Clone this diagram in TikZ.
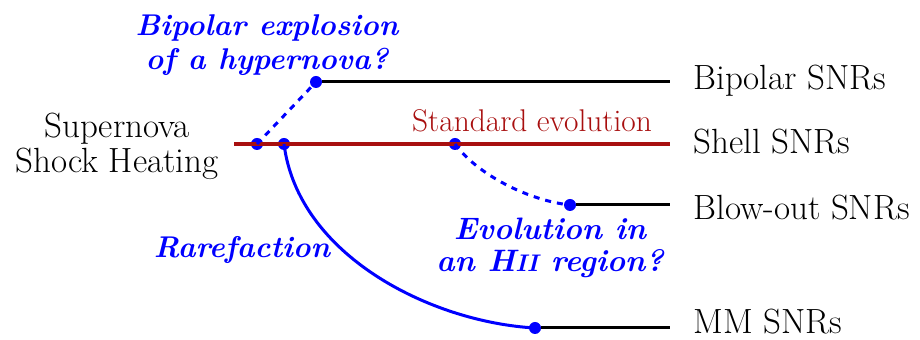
\documentclass[tikz,border=0pt]{standalone}
\usepackage{tikz}
\usetikzlibrary{arrows.meta,positioning,calc}
\definecolor{stdred}{rgb}{0.66,0.06,0.06}
\begin{document}
\begin{tikzpicture}[x=0.5pt,y=-0.5pt,
   lbl/.style={inner sep=0pt,font=\fontsize{17.5}{17.5}\selectfont},
   ask/.style={inner sep=0pt,align=center,text=blue,font=\fontsize{15}{17}\selectfont\bfseries\itshape},
   branch/.style={line width=1.5pt},
   path/.style={blue,line width=1.5pt},
   dot/.style={circle,fill=blue,inner sep=0pt,minimum size=6pt}]
  \useasboundingbox (0,0) rectangle (920,340);
  % end labels
  \node[lbl,anchor=west] (bip) at (693,81) {Bipolar SNRs};
  \node[lbl,anchor=west] (shl) at (693,142) {Shell SNRs};
  \node[lbl,anchor=west] (blw) at (693,208) {Blow-out SNRs};
  \node[lbl,anchor=west] (mm) at (693,322) {MM SNRs};
  \node[lbl,align=center] (sn) at (117,146) {Supernova\\Shock Heating};
  % branch points
  \coordinate (start) at (234,144);
  \coordinate (stop) at (670,144);
  \node[dot] (d1) at (257,144) {};
  \node[dot] (d2) at (284,144) {};
  \node[dot] (d3) at (455,144) {};
  \node[dot] (dbip) at (316,82) {};
  \node[dot] (dblw) at (570,205) {};
  \node[dot] (dmm) at (535,328) {};
  % tracks
  \draw[stdred,line width=2pt] (start) -- (stop);
  \node[lbl,text=stdred,font=\fontsize{15.7}{17}\selectfont] (std) at (532,121) {Standard evolution};
  \draw[branch] (dbip) -- (670,82);
  \draw[branch] (dblw) -- (670,205);
  \draw[branch] (dmm) -- (670,328);
  \draw[path,dashed] (d1.center) -- (dbip.center);
  \draw[path,dashed] (d3.center) .. controls (475,172) and (525,200) .. (dblw.center);
  \draw[path] (d2.center) .. controls (298,255) and (430,322) .. (dmm.center);
  % questions
  \node[ask] (hyp) at (267,45) {Bipolar explosion\\of a hypernova?};
  \node[ask,font=\fontsize{15.5}{16}\selectfont\bfseries\itshape] (hii) at (550,248) {Evolution in\\an H{\fontsize{12}{12}\selectfont II} region?};
  \node[ask] (rar) at (242,250) {Rarefaction};
\end{tikzpicture}
\end{document}
